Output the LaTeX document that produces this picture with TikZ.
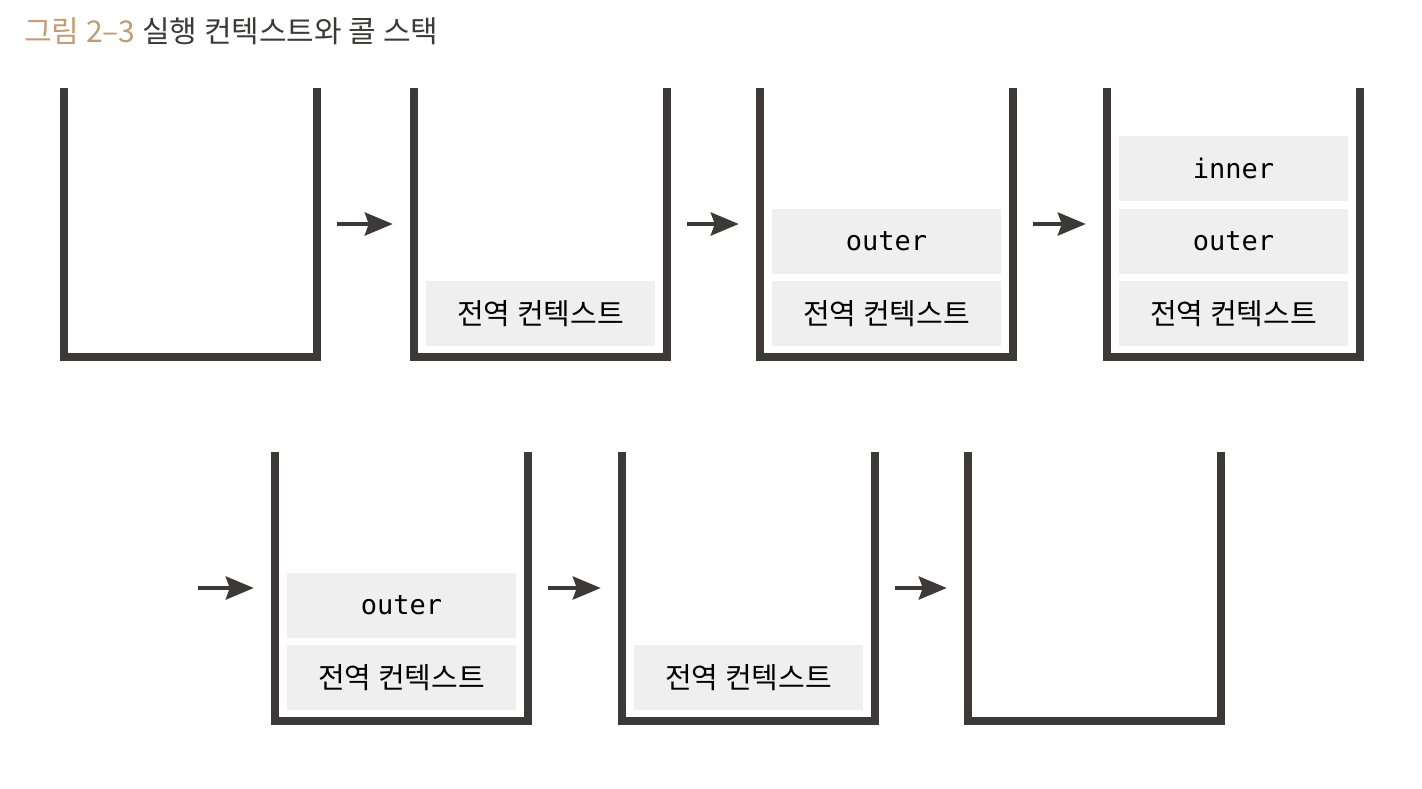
\documentclass[tikz,border=0pt]{standalone}
\usepackage{fontspec}
\setmainfont{Noto Sans CJK KR}
\setmonofont{DejaVu Sans Mono}
\usetikzlibrary{positioning,arrows.meta}
\definecolor{wallgray}{HTML}{3D3939}
\definecolor{framegray}{HTML}{EFEFEF}
\definecolor{titletan}{HTML}{C69B70}
\tikzset{
    cup/.style={minimum width=253pt, minimum height=269pt, inner sep=0pt},
    wall/.style={line width=8pt, color=wallgray},
    frame/.style={fill=framegray, minimum width=229pt, minimum height=65pt, inner sep=0pt, font=\fontsize{29}{29}\selectfont},
    code/.style={frame, font=\ttfamily\fontsize{27}{27}\selectfont},
    push/.style={line width=4pt, color=wallgray, -{Stealth[length=28pt, width=23pt, inset=4pt]}},
}
\begin{document}
\begin{tikzpicture}[x=1pt, y=-1pt, every node/.style={anchor=center}]
        \useasboundingbox (0,0) rectangle (1422,788);

        % Title
        \node[anchor=west, inner sep=0pt, font=\fontsize{30}{30}\selectfont] (title) at (24,31)
            {\textcolor{titletan}{그림 2–3} \textcolor{wallgray}{실행 컨텍스트와 콜 스택}};

        % Stacks, top row
        \node[cup] (s1) at (190.5,222.5) {};
        \node[cup] (s2) at (540.5,222.5) {};
        \node[cup] (s3) at (886.5,222.5) {};
        \node[cup] (s4) at (1233.5,222.5) {};

        % Stacks, bottom row
        \node[cup] (s5) at (401.5,586.5) {};
        \node[cup] (s6) at (748.5,586.5) {};
        \node[cup] (s7) at (1094.5,586.5) {};

        % Walls
        \foreach \s in {s1,s2,s3,s4,s5,s6,s7}
            \draw[wall] (\s.north west) -- (\s.south west) -- (\s.south east) -- (\s.north east);

        % Contexts
        \node[frame, above=11pt of s2.south] (g2) {전역 컨텍스트};

        \node[frame, above=11pt of s3.south] (g3) {전역 컨텍스트};
        \node[code, above=7pt of g3] (o3) {outer};

        \node[frame, above=11pt of s4.south] (g4) {전역 컨텍스트};
        \node[code, above=7pt of g4] (o4) {outer};
        \node[code, above=7pt of o4] (i4) {inner};

        \node[frame, above=11pt of s5.south] (g5) {전역 컨텍스트};
        \node[code, above=7pt of g5] (o5) {outer};

        \node[frame, above=11pt of s6.south] (g6) {전역 컨텍스트};

        % Arrows between stacks
        \draw[push] ([xshift=20pt,yshift=-1.5pt]s1.east) -- ([xshift=-21pt,yshift=-1.5pt]s2.west);
        \draw[push] ([xshift=20pt,yshift=-1.5pt]s2.east) -- ([xshift=-21pt,yshift=-1.5pt]s3.west);
        \draw[push] ([xshift=20pt,yshift=-1.5pt]s3.east) -- ([xshift=-21pt,yshift=-1.5pt]s4.west);

        \coordinate (start) at (198,588);
        \draw[push] (start) -- ([xshift=-21pt,yshift=-1.5pt]s5.west);
        \draw[push] ([xshift=20pt,yshift=-1.5pt]s5.east) -- ([xshift=-21pt,yshift=-1.5pt]s6.west);
        \draw[push] ([xshift=20pt,yshift=-1.5pt]s6.east) -- ([xshift=-21pt,yshift=-1.5pt]s7.west);
    \end{tikzpicture}
\end{document}
